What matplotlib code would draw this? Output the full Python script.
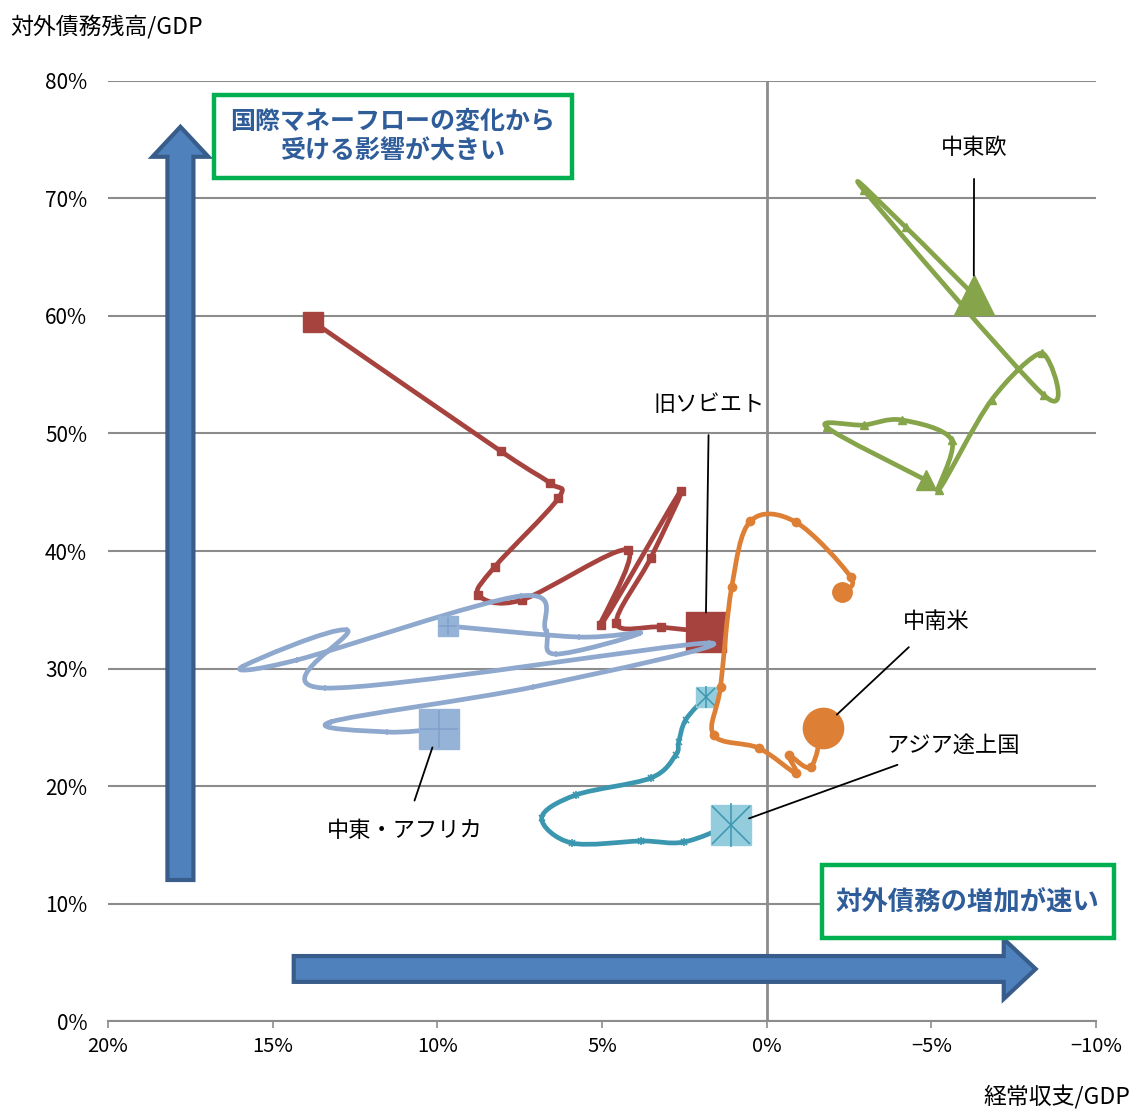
import numpy as np
import matplotlib
matplotlib.use("Agg")
import matplotlib.pyplot as plt
from matplotlib.path import Path
from matplotlib.patches import PathPatch, FancyArrow, Rectangle
from matplotlib.ticker import FuncFormatter

plt.rcParams["font.family"] = ["Noto Sans CJK JP", "DejaVu Sans"]

# ---------------------------------------------------------------------------
# Data: current account / GDP (x, %) vs external debt / GDP (y, %)
# ---------------------------------------------------------------------------
USSR_X = [13.76, 8.08, 6.59, 6.32, 8.26, 8.75, 7.44, 4.22, 5.04, 2.61, 3.52, 4.56, 3.22, 1.85]
USSR_Y = [59.49, 48.51, 45.79, 44.51, 38.64, 36.26, 35.83, 40.09, 33.70, 45.11, 39.40, 33.87, 33.53, 33.11]

MEA_X = [9.69, 5.71, 3.83, 6.41, 6.71, 7.47, 14.27, 15.94, 12.75, 13.42, 1.76, 7.08, 13.24, 11.54, 9.96]
MEA_Y = [33.62, 32.68, 33.02, 31.23, 33.28, 36.17, 30.72, 30.13, 33.28, 28.34, 32.17, 28.43, 25.45, 24.60, 24.85]

ASIA_X = [1.85, 2.46, 2.67, 2.76, 3.52, 5.80, 6.83, 5.92, 3.80, 2.52, 1.09]
ASIA_Y = [27.57, 25.62, 23.74, 22.64, 20.68, 19.23, 17.28, 15.15, 15.32, 15.23, 16.68]

LATAM_X = [-2.28, -2.55, -0.88, 0.49, 1.06, 1.40, 1.61, 0.24, -0.88, -0.67, -1.34, -1.70]
LATAM_Y = [36.51, 37.79, 42.47, 42.55, 36.94, 28.43, 24.34, 23.23, 21.11, 22.64, 21.62, 24.94]

CEE_X = [-4.83, -1.82, -2.95, -4.10, -5.62, -5.22, -6.83, -8.35, -8.41, -2.95, -4.22, -6.29]
CEE_Y = [46.04, 50.55, 50.72, 51.15, 49.45, 45.19, 52.85, 56.85, 53.28, 70.72, 67.57, 61.79]

X_TICKS = [20, 15, 10, 5, 0, -5, -10]
Y_TICKS = [0, 10, 20, 30, 40, 50, 60, 70, 80]

# name, x, y, colour, small marker, label text, label position
SERIES = [
    ("USSR",  USSR_X,  USSR_Y,  "#A6433F", "s", "旧ソビエト",     (1.75, 52.5)),
    ("MEA",   MEA_X,   MEA_Y,   "#8EA8CE", "+", "中東・アフリカ", (11.0, 16.2)),
    ("ASIA",  ASIA_X,  ASIA_Y,  "#3B97B0", "*", "アジア途上国",   (-5.65, 23.5)),
    ("LATAM", LATAM_X, LATAM_Y, "#DD8036", "o", "中南米",         (-5.15, 34.0)),
    ("CEE",   CEE_X,   CEE_Y,   "#86A44A", "^", "中東欧",         (-6.3, 74.3)),
]


def smooth_path(xs, ys):
    """Excel-style smoothed line as cubic Bezier path through the points."""
    pts = np.column_stack([xs, ys])
    n = len(pts)
    verts = [pts[0]]
    codes = [Path.MOVETO]
    for i in range(n - 1):
        p0 = pts[i - 1] if i > 0 else pts[i]
        p1 = pts[i]
        p2 = pts[i + 1]
        p3 = pts[i + 2] if i + 2 < n else pts[i + 1]
        verts += [p1 + (p2 - p0) / 6.0, p2 - (p3 - p1) / 6.0, p2]
        codes += [Path.CURVE4] * 3
    return Path(verts, codes)


def cross_marks(x, y, kind, ms, mew, color, z):
    """Excel '+' and '*' markers (asterisk = x plus vertical bar)."""
    if kind == "+":
        ax.plot(x, y, ls="none", marker="+", ms=ms, mew=mew, color=color, zorder=z)
    else:
        ax.plot(x, y, ls="none", marker="x", ms=ms, mew=mew, color=color, zorder=z)
        ax.plot(x, y, ls="none", marker="|", ms=ms * 1.15, mew=mew, color=color, zorder=z)


fig = plt.figure(figsize=(11.33, 11.11), dpi=100)
ax = fig.add_axes([0.0953, 0.0810, 0.8720, 0.8461])

ax.set_xlim(20, -10)
ax.set_ylim(0, 80)
ax.set_xticks(X_TICKS)
ax.set_yticks(Y_TICKS)
ax.xaxis.set_major_formatter(FuncFormatter(lambda v, p: f"{v:.0f}%".replace("-", "\u2212")))
ax.yaxis.set_major_formatter(FuncFormatter(lambda v, p: f"{v:.0f}%"))

for s in ("top", "right", "left"):
    ax.spines[s].set_visible(False)
ax.spines["bottom"].set_color("#8C8C8C")
ax.spines["bottom"].set_linewidth(1.5)
ax.tick_params(axis="x", direction="out", length=5, width=1.2, color="#8C8C8C",
               labelsize=14.5, pad=6)
ax.tick_params(axis="y", length=0, labelsize=15, pad=15)
ax.grid(axis="y", color="#8C8C8C", lw=1.5)
ax.set_axisbelow(True)
ax.axvline(0, color="#8C8C8C", lw=2, zorder=1)

# big arrows
ax.add_patch(FancyArrow(17.8, 12.0, 0, 64.1, width=0.79, head_width=1.70, head_length=2.55,
                        length_includes_head=True, facecolor="#4F81BD", edgecolor="#385D8A",
                        lw=3, zorder=2))
ax.add_patch(FancyArrow(14.36, 4.43, -22.53, 0, width=2.2, head_width=5.1, head_length=0.97,
                        length_includes_head=True, facecolor="#4F81BD", edgecolor="#385D8A",
                        lw=3, zorder=2))

# series
for k, (name, xs, ys, col, mk, label, lpos) in enumerate(SERIES):
    z = 3 + k
    ax.add_patch(PathPatch(smooth_path(xs, ys), fill=False, edgecolor=col, lw=3.4,
                           capstyle="round", joinstyle="round", zorder=z))
    if mk in "+*":
        cross_marks(xs[1:-1], ys[1:-1], mk, 5, 1.2, col, z)
        face = "#95B3D7" if name == "MEA" else "#93CDDD"
        inner = "#7F9FCB" if name == "MEA" else "#3B97B0"
        for i, ms in ((0, 14), (-1, 29)):
            ax.plot(xs[i], ys[i], ls="none", marker="s", ms=ms, mfc=face, mec=face, zorder=z)
            cross_marks(xs[i], ys[i], mk, ms * 0.95, 1.1, inner, z)
    else:
        ax.plot(xs[1:-1], ys[1:-1], ls="none", marker=mk, ms=6, color=col, mec=col, zorder=z)
        ax.plot(xs[0], ys[0], ls="none", marker=mk, ms=14, color=col, mec=col, zorder=z)
        ax.plot(xs[-1], ys[-1], ls="none", marker=mk, ms=29, color=col, mec=col, zorder=z)

    ax.annotate(label, xy=(xs[-1], ys[-1]), xytext=lpos, fontsize=16, color="black",
                ha="center", va="center", zorder=20, annotation_clip=False,
                arrowprops=dict(arrowstyle="-", color="black", lw=1.3,
                                shrinkA=12, shrinkB=14))

# text boxes
ax.add_patch(Rectangle((5.92, 71.74), 10.87, 7.07, facecolor="white", edgecolor="#00B050",
                       lw=3.2, zorder=15))
ax.text(11.36, 75.28, "国際マネーフローの変化から\n受ける影響が大きい", ha="center", va="center",
        fontsize=18, fontweight="bold", color="#2F5D9A", linespacing=1.25, zorder=16)
ax.add_patch(Rectangle((-10.54, 7.06), 8.87, 6.22, facecolor="white", edgecolor="#00B050",
                       lw=3.2, zorder=15, clip_on=False))
ax.text(-6.10, 10.13, "対外債務の増加が速い", ha="center", va="center",
        fontsize=19, fontweight="bold", color="#2F5D9A", zorder=16)

fig.text(10 / 1133, 1 - 27 / 1111, "対外債務残高/GDP", fontsize=16.5, ha="left", va="center")
fig.text(1130 / 1133, 1 - 1097 / 1111, "経常収支/GDP", fontsize=16.5, ha="right", va="center")

fig.savefig("out.png", dpi=100)
